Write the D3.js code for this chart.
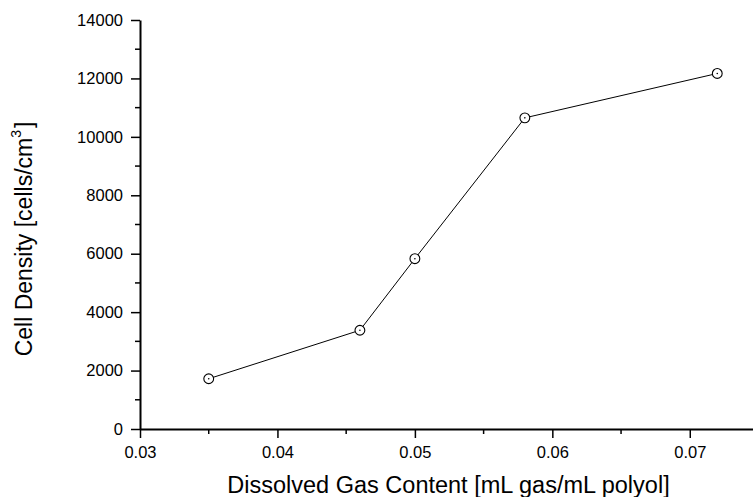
<!DOCTYPE html>
<html>
<head>
<meta charset="utf-8">
<script src="https://cdn.jsdelivr.net/npm/d3@7"></script>
<style>
  body { margin: 0; background: #fff; }
  svg text { font-family: "Liberation Sans", Arial, sans-serif; fill: #000; }
</style>
</head>
<body>
<div id="chart"></div>
<script>
  // data
  var gasContent = [0.035, 0.046, 0.050, 0.058, 0.072];
  var cellDensity = [1720, 3380, 5830, 10650, 12170];

  var xTicks = [0.03, 0.04, 0.05, 0.06, 0.07];
  var xMinor = [0.035, 0.045, 0.055, 0.065];
  var yTicks = [0, 2000, 4000, 6000, 8000, 10000, 12000, 14000];
  var yMinor = [1000, 3000, 5000, 7000, 9000, 11000, 13000];

  var W = 753, H = 497;
  var margin = {top: 20, right: 0, bottom: 68, left: 140};
  var width = W - margin.left - margin.right,
      height = H - margin.top - margin.bottom;

  var xScale = d3.scaleLinear()
      .domain([0.03, 0.0746])
      .range([0, width]);
  var yScale = d3.scaleLinear()
      .domain([0, 14000])
      .range([height, 0]);

  var svg = d3.select("#chart").append("svg")
      .attr("width", W)
      .attr("height", H)
    .append("g")
      .attr("transform", "translate(" + margin.left + "," + margin.top + ")");

  ////// axes //////
  var xAxis = d3.axisBottom(xScale)
      .tickValues(xTicks)
      .tickSize(9)
      .tickSizeOuter(0)
      .tickPadding(8)
      .tickFormat(d3.format(".2f"));
  var yAxis = d3.axisLeft(yScale)
      .tickValues(yTicks)
      .tickSize(9)
      .tickSizeOuter(0)
      .tickPadding(8)
      .tickFormat(d3.format("d"));

  var gx = svg.append("g")
      .attr("class", "x axis")
      .attr("transform", "translate(0," + height + ")")
      .call(xAxis);
  var gy = svg.append("g")
      .attr("class", "y axis")
      .call(yAxis);

  // minor ticks
  gx.selectAll(".minor").data(xMinor).enter().append("line")
      .attr("class", "minor")
      .attr("x1", function(d) { return xScale(d); })
      .attr("x2", function(d) { return xScale(d); })
      .attr("y1", 0).attr("y2", 5)
      .attr("stroke", "#000").attr("stroke-width", 1.5);
  gy.selectAll(".minor").data(yMinor).enter().append("line")
      .attr("class", "minor")
      .attr("y1", function(d) { return yScale(d); })
      .attr("y2", function(d) { return yScale(d); })
      .attr("x1", 0).attr("x2", -5)
      .attr("stroke", "#000").attr("stroke-width", 1.5);

  svg.selectAll(".axis path").attr("stroke", "#000").attr("stroke-width", 2);
  svg.selectAll(".axis .tick line").attr("stroke", "#000").attr("stroke-width", 1.5);
  svg.selectAll(".axis text").style("font-size", "16.5px");

  ////// series //////
  var points = gasContent.map(function(g, i) { return {x: g, y: cellDensity[i]}; });

  var line = d3.line()
      .x(function(d) { return xScale(d.x); })
      .y(function(d) { return yScale(d.y); });

  svg.append("path")
      .datum(points)
      .attr("d", line)
      .attr("fill", "none")
      .attr("stroke", "#000")
      .attr("stroke-width", 1);

  var marks = svg.append("g").selectAll("g")
      .data(points)
      .enter().append("g")
      .attr("transform", function(d) {
        return "translate(" + xScale(d.x) + "," + yScale(d.y) + ")";
      });
  marks.append("circle")
      .attr("r", 4.9)
      .attr("fill", "#fff")
      .attr("stroke", "#000")
      .attr("stroke-width", 1.1);
  marks.append("circle")
      .attr("r", 0.8)
      .attr("fill", "#000");

  ////// titles //////
  svg.append("text")
      .attr("x", width / 2 + 2)
      .attr("y", height + 64)
      .attr("text-anchor", "middle")
      .style("font-size", "23.5px")
      .text("Dissolved Gas Content [mL gas/mL polyol]");

  var yt = svg.append("text")
      .attr("transform", "translate(" + (-108) + "," + 219 + ") rotate(-90)")
      .attr("text-anchor", "middle")
      .style("font-size", "23px");
  yt.append("tspan").text("Cell Density [cells/cm");
  yt.append("tspan").attr("dy", -11).style("font-size", "14px").text("3");
  yt.append("tspan").attr("dy", 11).attr("dx", 2).text("]");
</script>
</body>
</html>
